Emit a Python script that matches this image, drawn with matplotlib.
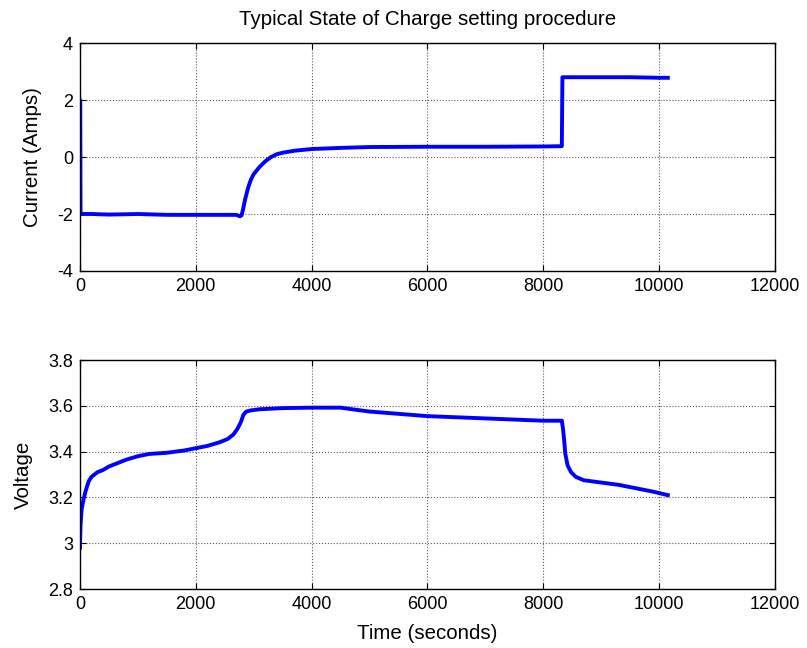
import matplotlib.pyplot as plt

# current trace (time in s, current in A)
t_cur = [0, 5, 10, 20, 200, 500, 1000, 1500, 2000, 2500, 2700, 2760, 2790, 2820,
         2850, 2900, 2950, 3000, 3100, 3200, 3300, 3400, 3500, 3700, 4000, 4500,
         5000, 6000, 7000, 8000, 8320, 8330, 8340, 9000, 9500, 10000, 10150]
current = [2.0, 2.0, -2.0, -2.0, -2.0, -2.02, -2.0, -2.03, -2.03, -2.03, -2.03, -2.08,
           -2.05, -1.8, -1.5, -1.1, -0.8, -0.6, -0.35, -0.15, 0.0, 0.1, 0.15, 0.22,
           0.28, 0.32, 0.35, 0.36, 0.36, 0.37, 0.38, 2.8, 2.8, 2.8, 2.8, 2.78, 2.78]

# voltage trace (time in s, volts)
t_volt = [0, 10, 30, 60, 100, 150, 200, 300, 400, 500, 650, 800, 1000, 1200, 1500,
          1800, 2000, 2200, 2400, 2550, 2650, 2720, 2780, 2820, 2870, 2950, 3100,
          3500, 4000, 4500, 4700, 5000, 5500, 6000, 6500, 7000, 7500, 8000, 8320,
          8340, 8360, 8380, 8420, 8480, 8560, 8700, 9000, 9300, 9600, 9900, 10150]
voltage = [2.98, 3.08, 3.15, 3.19, 3.23, 3.27, 3.29, 3.31, 3.32, 3.335, 3.35, 3.365,
           3.38, 3.39, 3.395, 3.405, 3.415, 3.425, 3.44, 3.455, 3.475, 3.5, 3.53,
           3.56, 3.575, 3.58, 3.585, 3.59, 3.592, 3.592, 3.585, 3.575, 3.565, 3.555,
           3.55, 3.545, 3.54, 3.535, 3.535, 3.5, 3.45, 3.39, 3.34, 3.31, 3.29, 3.275,
           3.265, 3.255, 3.24, 3.225, 3.21]

plt.rcParams['font.family'] = ['Liberation Sans', 'DejaVu Sans']
plt.rcParams['axes.unicode_minus'] = False

fig = plt.figure(figsize=(8.07, 6.48), dpi=100)
ax1 = fig.add_axes([0.0991, 0.5818, 0.8612, 0.3518])
ax2 = fig.add_axes([0.0991, 0.0910, 0.8612, 0.3534])

ax1.plot(t_cur, current, color='#0000ff', linewidth=2.8)
ax2.plot(t_volt, voltage, color='#0000ff', linewidth=2.8)

ax1.set_xlim(0, 12000)
ax1.set_ylim(-4, 4)
ax1.set_yticks([-4, -2, 0, 2, 4])
ax1.set_ylabel('Current (Amps)', fontsize=14.8)
ax1.yaxis.set_label_coords(-0.055, 0.5)
ax1.set_title('Typical State of Charge setting procedure', fontsize=14.8, pad=13)

ax2.set_xlim(0, 12000)
ax2.set_ylim(2.8, 3.8)
ax2.set_yticks([2.8, 3.0, 3.2, 3.4, 3.6, 3.8])
ax2.set_yticklabels(['2.8', '3', '3.2', '3.4', '3.6', '3.8'])
ax2.set_ylabel('Voltage', fontsize=14.8)
ax2.yaxis.set_label_coords(-0.068, 0.5)
ax2.set_xlabel('Time (seconds)', fontsize=14.8, labelpad=8)

for ax in (ax1, ax2):
    ax.set_xticks(range(0, 12001, 2000))
    ax.grid(True, linestyle=':', color='0.35', linewidth=0.8)
    ax.tick_params(direction='in', top=True, right=True, length=4,
                   labelsize=13, pad=5)
    for s in ax.spines.values():
        s.set_linewidth(1.0)

fig.savefig('out.png', dpi=100)
